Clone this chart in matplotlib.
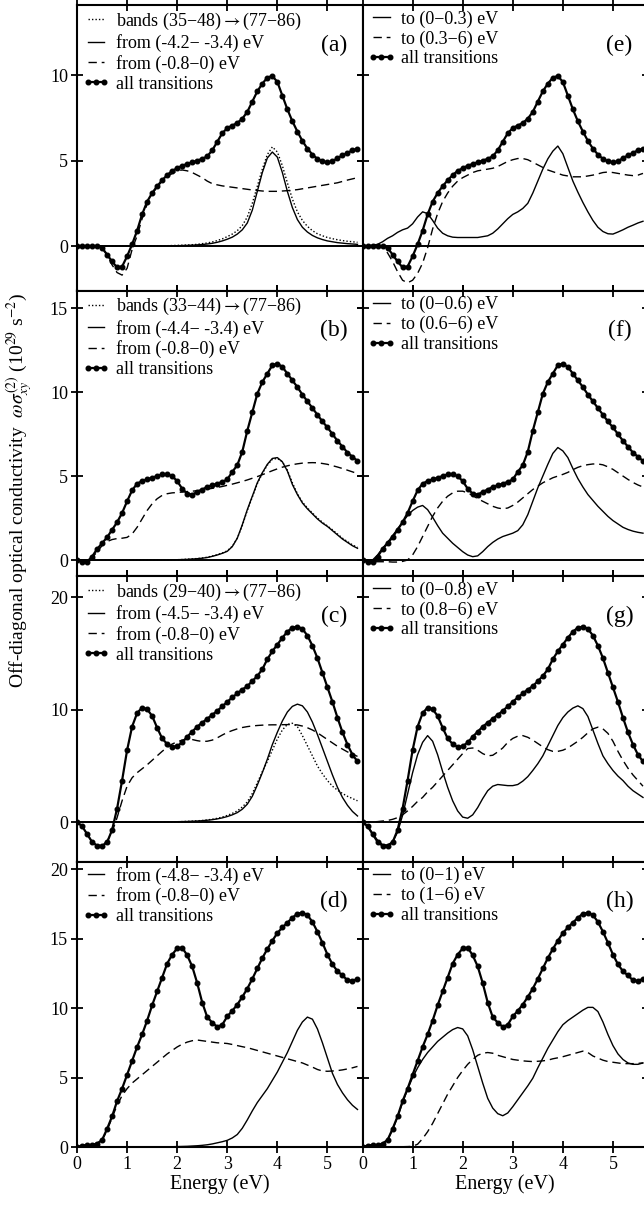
import numpy as np
import matplotlib.pyplot as plt

plt.rcParams['font.family'] = ['Liberation Serif', 'DejaVu Serif']
plt.rcParams['mathtext.fontset'] = 'stix'

# photon energy grid (eV)
energy = np.round(np.arange(0, 5.65, 0.1), 1)

# ---- panel (a) / (e) ----
tot_a = [0, 0, 0, 0, 0, -0.1, -0.5, -0.9, -1.25, -1.2,
         -0.6, 0.1, 0.9, 1.85, 2.6, 3.1, 3.5, 3.85, 4.15, 4.4,
         4.55, 4.7, 4.8, 4.9, 5.0, 5.1, 5.25, 5.6, 6.1, 6.6,
         6.9, 7.05, 7.2, 7.45, 7.85, 8.45, 9.05, 9.5, 9.85, 9.95,
         9.6, 8.8, 8.0, 7.3, 6.7, 6.15, 5.7, 5.35, 5.1, 4.95,
         4.9, 4.95, 5.15, 5.3, 5.45, 5.6, 5.7]
dot_a = [0, 0, 0, 0, 0, 0, 0, 0, 0, 0,
         0, 0, 0, 0, 0, 0, 0, 0.01, 0.02, 0.03,
         0.04, 0.05, 0.06, 0.08, 0.1, 0.14, 0.18, 0.24, 0.32, 0.42,
         0.55, 0.7, 0.9, 1.2, 1.7, 2.5, 3.5, 4.5, 5.35, 5.8,
         5.5, 4.7, 3.7, 2.75, 2.0, 1.5, 1.15, 0.9, 0.72, 0.6,
         0.5, 0.43, 0.37, 0.32, 0.28, 0.25, 0.22]
sol_a = [0, 0, 0, 0, 0, 0, 0, 0, 0, 0,
         0, 0, 0, 0, 0, 0, 0, 0, 0, 0.01,
         0.02, 0.03, 0.04, 0.05, 0.07, 0.09, 0.12, 0.16, 0.22, 0.3,
         0.4, 0.52, 0.7, 0.95, 1.35, 2.1, 3.2, 4.3, 5.15, 5.5,
         5.2, 4.3, 3.2, 2.25, 1.55, 1.1, 0.82, 0.62, 0.48, 0.38,
         0.3, 0.25, 0.2, 0.17, 0.14, 0.12, 0.1]
dash_a = [0, 0, 0, 0, 0, -0.1, -0.5, -1.1, -1.55, -1.7,
          -1.3, -0.2, 0.6, 1.6, 2.45, 3.05, 3.45, 3.8, 4.05, 4.25,
          4.4, 4.45, 4.4, 4.3, 4.15, 4.0, 3.8, 3.65, 3.58, 3.52,
          3.48, 3.44, 3.4, 3.36, 3.32, 3.28, 3.25, 3.22, 3.2, 3.2,
          3.2, 3.22, 3.24, 3.27, 3.3, 3.35, 3.4, 3.45, 3.5, 3.55,
          3.6, 3.65, 3.7, 3.78, 3.86, 3.93, 4.0]
sol_e = [0, 0.02, 0.05, 0.1, 0.25, 0.45, 0.6, 0.8, 0.95, 1.05,
         1.3, 1.7, 2.0, 1.9, 1.5, 1.05, 0.75, 0.6, 0.52, 0.5,
         0.5, 0.5, 0.5, 0.5, 0.55, 0.6, 0.75, 1.0, 1.3, 1.6,
         1.85, 2.0, 2.2, 2.5, 3.1, 3.8, 4.5, 5.1, 5.55, 5.85,
         5.4, 4.6, 3.8, 3.15, 2.55, 2.0, 1.5, 1.1, 0.85, 0.72,
         0.7, 0.82, 0.95, 1.1, 1.22, 1.35, 1.45]
dash_e = [0, 0, 0, -0.02, -0.1, -0.4, -0.9, -1.5, -2.0, -2.15,
          -2.0, -1.6, -1.0, -0.1, 1.0, 1.9, 2.6, 3.1, 3.5, 3.8,
          4.0, 4.15, 4.3, 4.4, 4.45, 4.5, 4.55, 4.65, 4.8, 4.95,
          5.05, 5.12, 5.12, 5.05, 4.9, 4.75, 4.6, 4.45, 4.35, 4.25,
          4.15, 4.1, 4.05, 4.05, 4.05, 4.1, 4.15, 4.22, 4.3, 4.33,
          4.3, 4.25, 4.2, 4.15, 4.12, 4.15, 4.25]

# ---- panel (b) / (f) ----
tot_b = [0, -0.1, -0.1, 0.2, 0.65, 1.0, 1.35, 1.8, 2.25, 2.8,
         3.5, 4.15, 4.55, 4.7, 4.8, 4.9, 5.0, 5.1, 5.1, 5.0,
         4.7, 4.25, 3.95, 3.9, 4.05, 4.2, 4.35, 4.45, 4.55, 4.65,
         4.8, 5.25, 5.65, 6.45, 7.7, 8.8, 9.9, 10.6, 11.1, 11.6,
         11.7, 11.5, 11.1, 10.7, 10.3, 9.85, 9.45, 9.05, 8.65, 8.25,
         7.9, 7.5, 7.1, 6.75, 6.4, 6.15, 5.9]
dot_b = [0, 0, 0, 0, 0, 0, 0, 0, 0, 0,
         0, 0, 0, 0, 0, 0, 0, 0, 0.01, 0.01,
         0.02, 0.03, 0.05, 0.07, 0.09, 0.12, 0.17, 0.24, 0.32, 0.42,
         0.55, 0.82, 1.3, 2.05, 2.95, 3.75, 4.55, 5.15, 5.65, 6.0,
         6.05, 5.85, 5.35, 4.6, 3.95, 3.45, 3.1, 2.8, 2.5, 2.25,
         2.03, 1.8, 1.55, 1.3, 1.1, 0.9, 0.75]
sol_b = [0, 0, 0, 0, 0, 0, 0, 0, 0, 0,
         0, 0, 0, 0, 0, 0, 0, 0, 0, 0.01,
         0.02, 0.03, 0.04, 0.06, 0.08, 0.11, 0.15, 0.22, 0.3, 0.4,
         0.52, 0.8, 1.3, 2.1, 3.0, 3.8, 4.6, 5.2, 5.7, 6.05,
         6.1, 5.85, 5.3, 4.5, 3.9, 3.4, 3.05, 2.75, 2.45, 2.2,
         2.0, 1.75, 1.5, 1.25, 1.05, 0.85, 0.7]
dash_b = [0, 0, 0, 0.1, 0.5, 0.85, 1.1, 1.22, 1.28, 1.3,
          1.35, 1.55, 1.95, 2.45, 2.95, 3.35, 3.65, 3.85, 3.95, 4.0,
          4.02, 4.05, 4.08, 4.1, 4.13, 4.17, 4.22, 4.27, 4.32, 4.38,
          4.45, 4.52, 4.6, 4.68, 4.77, 4.87, 4.97, 5.08, 5.2, 5.32,
          5.43, 5.53, 5.61, 5.68, 5.73, 5.77, 5.79, 5.8, 5.79, 5.75,
          5.7, 5.62, 5.54, 5.45, 5.35, 5.25, 5.15]
sol_f = [0, -0.05, 0.0, 0.3, 0.7, 1.05, 1.45, 1.85, 2.25, 2.65,
         2.95, 3.15, 3.25, 3.0, 2.55, 2.05, 1.6, 1.3, 1.0, 0.75,
         0.5, 0.3, 0.2, 0.25, 0.5, 0.8, 1.05, 1.25, 1.4, 1.5,
         1.6, 1.75, 2.1, 2.7, 3.5, 4.3, 5.0, 5.7, 6.35, 6.7,
         6.5, 6.1, 5.45, 4.85, 4.35, 3.9, 3.55, 3.2, 2.9, 2.6,
         2.35, 2.15, 1.95, 1.82, 1.72, 1.65, 1.6]
dash_f = [0, -0.05, -0.1, -0.1, -0.1, -0.1, -0.12, -0.12, -0.08, 0.0,
          0.3, 0.8, 1.4, 2.0, 2.6, 3.1, 3.5, 3.8, 4.0, 4.1,
          4.1, 4.0, 3.85, 3.65, 3.5, 3.35, 3.2, 3.1, 3.05, 3.1,
          3.25, 3.45, 3.7, 3.95, 4.2, 4.4, 4.6, 4.75, 4.9, 5.0,
          5.1, 5.22, 5.38, 5.52, 5.62, 5.68, 5.72, 5.72, 5.67, 5.55,
          5.4, 5.2, 5.0, 4.8, 4.62, 4.47, 4.35]

# ---- panel (c) / (g) ----
tot_c = [0, -0.35, -1.05, -1.75, -2.1, -2.1, -1.8, -0.7, 1.2, 3.7,
         6.4, 8.5, 9.7, 10.2, 10.05, 9.45, 8.4, 7.45, 6.95, 6.7,
         6.75, 7.1, 7.6, 8.05, 8.5, 8.85, 9.2, 9.55, 9.9, 10.3,
         10.7, 11.1, 11.45, 11.8, 12.1, 12.55, 13.0, 13.6, 14.5, 15.2,
         15.8, 16.4, 16.95, 17.3, 17.4, 17.2, 16.6, 15.7, 14.6, 13.3,
         12.0, 10.7, 9.3, 8.0, 6.9, 6.0, 5.4]
dot_c = [0, 0, 0, 0, 0, 0, 0, 0, 0, 0,
         0, 0, 0, 0, 0, 0, 0, 0.01, 0.02, 0.03,
         0.04, 0.05, 0.07, 0.09, 0.12, 0.15, 0.2, 0.26, 0.34, 0.45,
         0.6, 0.78, 1.0, 1.35, 1.8, 2.55, 3.5, 4.5, 5.4, 6.4,
         7.4, 8.2, 8.7, 8.8, 8.5, 7.7, 6.8, 5.9, 5.0, 4.3,
         3.7, 3.2, 2.85, 2.55, 2.3, 2.1, 1.9]
sol_c = [0, 0, 0, 0, 0, 0, 0, 0, 0, 0,
         0, 0, 0, 0, 0, 0, 0, 0.01, 0.02, 0.03,
         0.04, 0.05, 0.06, 0.08, 0.1, 0.13, 0.17, 0.22, 0.29, 0.38,
         0.5, 0.65, 0.85, 1.15, 1.6, 2.3, 3.3, 4.4, 5.6, 6.9,
         8.0, 9.0, 9.8, 10.3, 10.5, 10.35, 9.8, 8.9, 7.8, 6.6,
         5.4, 4.2, 3.1, 2.2, 1.5, 0.95, 0.55]
dash_c = [0, -0.35, -1.05, -1.75, -2.1, -2.05, -1.7, -0.9, 0.4, 1.9,
          3.2, 3.95, 4.4, 4.75, 5.1, 5.5, 5.9, 6.3, 6.65, 6.95,
          7.15, 7.3, 7.38, 7.35, 7.25, 7.18, 7.2, 7.3, 7.5, 7.75,
          7.98, 8.15, 8.3, 8.42, 8.5, 8.56, 8.6, 8.63, 8.65, 8.66,
          8.66, 8.67, 8.68, 8.68, 8.65, 8.55, 8.4, 8.2, 7.95, 7.65,
          7.35, 7.05, 6.75, 6.5, 6.25, 6.05, 5.85]
sol_g = [0, -0.35, -1.0, -1.6, -2.0, -2.05, -1.75, -0.9, 0.6, 2.5,
         4.4, 6.0, 7.1, 7.7, 7.2, 6.0, 4.5, 3.1, 1.9, 1.0,
         0.45, 0.35, 0.65, 1.3, 2.1, 2.8, 3.2, 3.35, 3.3, 3.25,
         3.25, 3.35, 3.65, 4.05, 4.6, 5.2, 5.9, 6.8, 7.7, 8.6,
         9.3, 9.8, 10.15, 10.35, 10.1, 9.4, 8.2, 7.0, 5.9, 5.2,
         4.6, 4.1, 3.7, 3.2, 2.8, 2.5, 2.2]
dash_g = [0, 0.0, 0.02, 0.05, 0.1, 0.15, 0.25, 0.4, 0.65, 1.0,
          1.4, 1.85, 2.2, 2.7, 3.1, 3.6, 4.1, 4.6, 5.1, 5.6,
          6.1, 6.55, 6.6, 6.4, 6.1, 5.9, 5.95, 6.25, 6.6, 7.1,
          7.45, 7.65, 7.7, 7.55, 7.3, 7.0, 6.7, 6.45, 6.3, 6.3,
          6.4, 6.6, 6.9, 7.2, 7.55, 7.95, 8.3, 8.45, 8.3, 7.9,
          7.2, 6.3, 5.5, 4.8, 4.2, 3.7, 3.2]

# ---- panel (d) / (h) ----
tot_d = [0, 0.1, 0.15, 0.15, 0.25, 0.5, 1.3, 2.2, 3.3, 4.2,
         5.2, 6.2, 7.2, 8.1, 9.1, 10.2, 11.2, 12.2, 13.2, 13.85,
         14.3, 14.35, 13.8, 13.0, 11.8, 10.4, 9.35, 8.95, 8.65, 8.8,
         9.4, 9.8, 10.25, 10.8, 11.4, 12.1, 12.85, 13.6, 14.25, 14.85,
         15.4, 15.8, 16.15, 16.5, 16.8, 16.85, 16.7, 16.2, 15.5, 14.7,
         13.85, 13.15, 12.65, 12.35, 12.0, 11.95, 12.1]
sol_d = [0, 0, 0, 0, 0, 0, 0, 0, 0, 0,
         0, 0, 0, 0, 0, 0, 0.01, 0.01, 0.02, 0.02,
         0.03, 0.04, 0.05, 0.07, 0.09, 0.12, 0.16, 0.22, 0.3, 0.38,
         0.48, 0.65, 0.9, 1.35, 1.95, 2.6, 3.2, 3.7, 4.2, 4.8,
         5.4, 6.1, 6.8, 7.6, 8.4, 9.0, 9.35, 9.2, 8.5, 7.5,
         6.4, 5.3, 4.5, 3.9, 3.4, 3.0, 2.7]
dash_d = [0, 0.02, 0.05, 0.1, 0.2, 0.5, 1.2, 2.1, 3.0, 3.7,
          4.2, 4.6, 4.9, 5.2, 5.5, 5.8, 6.1, 6.4, 6.7, 6.95,
          7.2, 7.4, 7.55, 7.65, 7.7, 7.65, 7.6, 7.55, 7.5, 7.48,
          7.45, 7.38, 7.3, 7.22, 7.15, 7.05, 6.95, 6.85, 6.75, 6.65,
          6.55, 6.45, 6.35, 6.25, 6.15, 6.05, 5.9, 5.75, 5.58, 5.47,
          5.45, 5.47, 5.5, 5.55, 5.62, 5.7, 5.8]
sol_h = [0, 0.05, 0.1, 0.12, 0.2, 0.5, 1.25, 2.15, 3.2, 4.15,
         5.0, 5.7, 6.3, 6.8, 7.2, 7.6, 7.9, 8.2, 8.45, 8.6,
         8.5, 8.0, 7.0, 5.8, 4.6, 3.5, 2.8, 2.4, 2.25, 2.45,
         2.9, 3.4, 3.9, 4.4, 4.95, 5.7, 6.4, 7.1, 7.7, 8.3,
         8.8, 9.1, 9.35, 9.6, 9.85, 10.05, 10.05, 9.75, 9.0, 8.1,
         7.3, 6.7, 6.3, 6.05, 5.95, 5.95, 6.05]
dash_h = [0, 0, 0, 0, 0, 0, 0.01, 0.01, 0.02, 0.03,
          0.05, 0.2, 0.6, 1.1, 1.7, 2.4, 3.1, 3.8, 4.4, 5.0,
          5.5, 5.95, 6.3, 6.6, 6.75, 6.8, 6.75, 6.6, 6.5, 6.4,
          6.3, 6.25, 6.2, 6.17, 6.15, 6.17, 6.2, 6.25, 6.35, 6.42,
          6.5, 6.6, 6.7, 6.8, 6.9, 6.8, 6.55, 6.4, 6.25, 6.15,
          6.1, 6.05, 6.0, 6.0, 6.0, 6.02, 6.05]

W, H = 644, 1205
fig = plt.figure(figsize=(W / 100, H / 100), dpi=100)

styles = {
    'dot': dict(color='k', lw=1.0, ls=(0, (1, 1.5))),
    'sol': dict(color='k', lw=1.0, ls='-'),
    'dash': dict(color='k', lw=1.0, ls=(0, (6, 3.5))),
    'all': dict(color='k', lw=1.6, ls='-', marker='o', ms=3.3),
}

def panel(left_px, top_px, ylim, yticks, curves, tag, ylabels, xlabels):
    ax = fig.add_axes([left_px / W, 1 - (top_px + 285.5) / H, 285.5 / W, 285.5 / H])
    ax.axhline(0, color='k', lw=1.4, zorder=1)
    for y, st, lab in curves:
        ax.plot(energy, y, label=lab, **styles[st])
    ax.set_xlim(0, 5.7)
    ax.set_ylim(*ylim)
    ax.set_xticks([0, 1, 2, 3, 4, 5])
    ax.set_yticks(yticks)
    ax.tick_params(direction='inout', length=9, width=1.3, top=True, right=True,
                   labelsize=13, pad=2)
    if not ylabels:
        ax.set_yticklabels([])
    if not xlabels:
        ax.set_xticklabels([])
    else:
        ax.set_xlabel('Energy (eV)', fontsize=14.5, labelpad=1)
    for s in ax.spines.values():
        s.set_linewidth(1.5)
    ax.legend(loc='upper left', frameon=False, fontsize=13, handlelength=1.5,
              handletextpad=0.35, labelspacing=0.15, borderaxespad=0.1,
              borderpad=0.2, numpoints=3)
    ax.text(0.9, 0.86, tag, transform=ax.transAxes, fontsize=17, ha='center', va='center')
    return ax

LX, RX = 77, 362.5
tops = [5, 290.5, 576, 861.5]
lims = [(-2.6, 14.1), (-0.95, 16.05), (-3.5, 21.9), (0, 20.55)]
ticks = [[0, 5, 10], [0, 5, 10, 15], [0, 10, 20], [0, 5, 10, 15, 20]]
bands = ['(35−48)', '(33−44)', '(29−40)']
froms = ['(-4.2− -3.4)', '(-4.4− -3.4)', '(-4.5− -3.4)', '(-4.8− -3.4)']
cuts = ['0.3', '0.6', '0.8', '1']

left_data = [(tot_a, dot_a, sol_a, dash_a), (tot_b, dot_b, sol_b, dash_b),
             (tot_c, dot_c, sol_c, dash_c), (tot_d, None, sol_d, dash_d)]
right_data = [(tot_a, sol_e, dash_e), (tot_b, sol_f, dash_f),
              (tot_c, sol_g, dash_g), (tot_d, sol_h, dash_h)]

for i in range(4):
    tot, dot, sol, dash = left_data[i]
    curves = []
    if dot is not None:
        curves.append((dot, 'dot', 'bands ' + bands[i] + r'$\rightarrow$(77−86)'))
    curves.append((sol, 'sol', 'from ' + froms[i] + ' eV'))
    curves.append((dash, 'dash', 'from (-0.8−0) eV'))
    curves.append((tot, 'all', 'all transitions'))
    panel(LX, tops[i], lims[i], ticks[i], curves, '(' + 'abcd'[i] + ')', True, i == 3)

    tot, sol, dash = right_data[i]
    curves = [(sol, 'sol', 'to (0−' + cuts[i] + ') eV'),
              (dash, 'dash', 'to (' + cuts[i] + '−6) eV'),
              (tot, 'all', 'all transitions')]
    panel(RX, tops[i], lims[i], ticks[i], curves, '(' + 'efgh'[i] + ')', False, i == 3)

fig.text(20 / W, 1 - 490 / H,
         r'Off-diagonal optical conductivity  $\omega\sigma_{xy}^{(2)}$ (10$^{29}$ s$^{-2}$)',
         rotation=90, ha='center', va='center', fontsize=14)

fig.savefig('out.png', dpi=100)
